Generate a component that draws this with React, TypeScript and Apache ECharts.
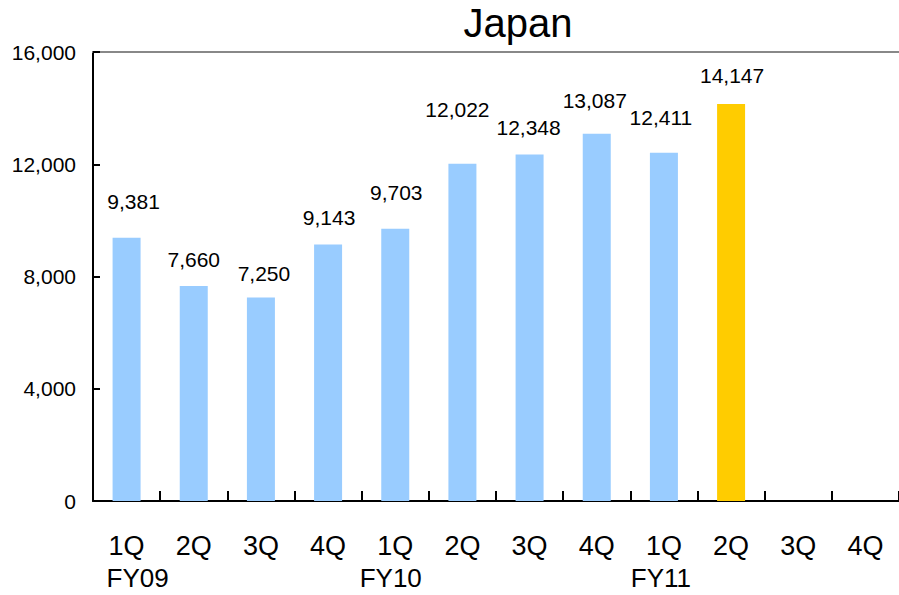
import React, { useEffect, useRef } from "react";
import * as echarts from "echarts";

const TITLE = "Japan";
const quarters = ["1Q", "2Q", "3Q", "4Q", "1Q", "2Q", "3Q", "4Q", "1Q", "2Q", "3Q", "4Q"];
const fiscalYears = ["FY09", "", "", "", "FY10", "", "", "", "FY11", "", "", ""];
const sales: (number | null)[] = [9381, 7660, 7250, 9143, 9703, 12022, 12348, 13087, 12411, 14147, null, null];
const highlightIndex = 9;
const yTicks = { min: 0, max: 16000, interval: 4000 };

// label placement tweaks (style only)
const labelRise = [36, 27, 24, 27, 36, 54, 27, 33, 35, 28, 0, 0];
const labelShiftX = [7, 0, 3, 1, 1, -5, -1, -2, -3, 1, 0, 0];
// horizontal nudge of fiscal-year captions: [leftPad, rightPad]
const fyPad: Record<string, [number, number]> = { FY09: [22, 0], FY10: [0, 9], FY11: [0, 6] };

const FONT = "'Liberation Sans', Arial, Helvetica, sans-serif";
const BLUE = "#99CCFF";
const YELLOW = "#FFCC00";

const fmt = (v: number) => v.toLocaleString("en-US");

export default function App() {
  const ref = useRef<HTMLDivElement>(null);
  useEffect(() => {
    if (!ref.current) return;
    const chart = echarts.init(ref.current, undefined, { renderer: "svg" });
    const data = sales.map((v, i) => ({
      value: v,
      itemStyle: { color: i === highlightIndex ? YELLOW : BLUE },
      label: {
        distance: Math.max(0, labelRise[i] - 10.5),
        offset: [labelShiftX[i], 0],
      },
    }));
    const rich: Record<string, any> = {
      q: { fontSize: 27, lineHeight: 32, color: "#000", fontFamily: FONT },
    };
    Object.keys(fyPad).forEach((k) => {
      rich[k] = {
        fontSize: 26,
        lineHeight: 32,
        color: "#000",
        fontFamily: FONT,
        padding: [0, fyPad[k][1], 0, fyPad[k][0]],
      };
    });
    chart.setOption({
      animation: false,
      backgroundColor: "#ffffff",
      textStyle: { fontFamily: FONT },
      graphic: [
        {
          type: "text",
          x: 518,
          y: 23,
          style: {
            text: TITLE,
            fontSize: 40,
            fontFamily: FONT,
            fill: "#000",
            textAlign: "center",
            textVerticalAlign: "middle",
          },
        },
      ],
      grid: { left: 93, right: -7, top: 52, bottom: 94, containLabel: false },
      xAxis: [
        {
          type: "category",
          data: quarters,
          position: "bottom",
          boundaryGap: true,
          axisLine: { show: true, lineStyle: { color: "#000", width: 2 } },
          axisTick: { show: true, inside: true, length: 10, lineStyle: { color: "#000", width: 2 } },
          axisLabel: {
            interval: 0,
            margin: 29,
            fontSize: 27,
            lineHeight: 32,
            color: "#000",
            fontFamily: FONT,
            rich,
            formatter: (v: string, i: number) =>
              fiscalYears[i] ? `{q|${v}}\n{${fiscalYears[i]}|${fiscalYears[i]}}` : `{q|${v}}\n{q| }`,
          },
          splitLine: { show: false },
        },
        {
          type: "category",
          data: quarters,
          position: "top",
          axisLine: { show: true, lineStyle: { color: "#888888", width: 2 } },
          axisTick: { show: false },
          axisLabel: { show: false },
          splitLine: { show: false },
        },
      ],
      yAxis: {
        type: "value",
        min: yTicks.min,
        max: yTicks.max,
        interval: yTicks.interval,
        axisLine: { show: true, lineStyle: { color: "#000", width: 2 } },
        axisTick: { show: true, inside: true, length: 7, lineStyle: { color: "#000", width: 2 } },
        axisLabel: {
          margin: 17,
          fontSize: 21,
          color: "#000",
          fontFamily: FONT,
          formatter: (v: number) => fmt(v),
        },
        splitLine: { show: false },
      },
      series: [
        {
          type: "bar",
          xAxisIndex: 0,
          data,
          barWidth: 28,
          label: {
            show: true,
            position: "top",
            fontSize: 21,
            lineHeight: 21,
            color: "#000",
            fontFamily: FONT,
            formatter: (p: any) => (p.value == null ? "" : fmt(p.value)),
          },
        },
      ],
    });
    return () => chart.dispose();
  }, []);
  return (
    <div
      ref={ref}
      style={{ position: "absolute", left: 0, top: 0, width: 899, height: 595, background: "#fff" }}
    />
  );
}
